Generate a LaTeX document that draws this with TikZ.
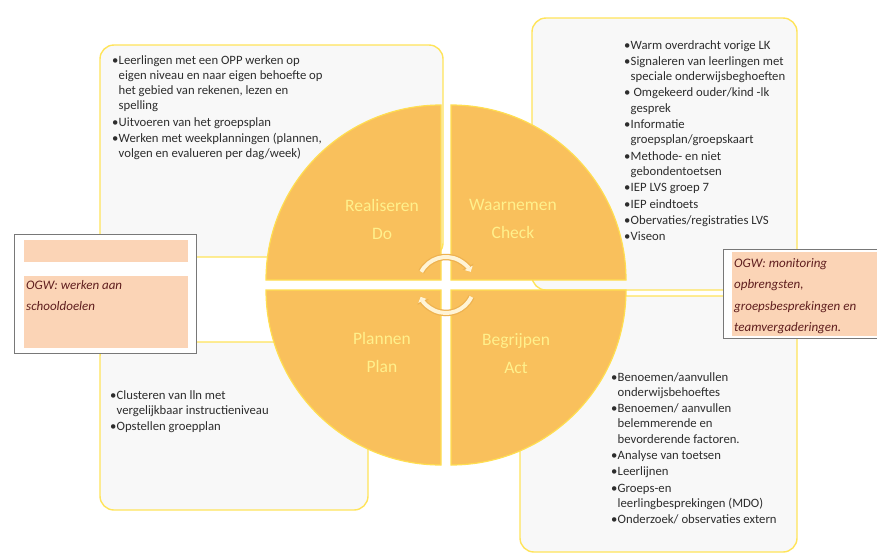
\documentclass[tikz,border=0pt]{standalone}
\usepackage{fontspec}
\setmainfont{Carlito}
\usetikzlibrary{arrows.meta}
\definecolor{panelfill}{RGB}{248,248,248}
\definecolor{panelline}{RGB}{255,228,90}
\definecolor{quadfill}{RGB}{249,192,92}
\definecolor{quadline}{RGB}{255,222,80}
\definecolor{phasetext}{RGB}{255,240,140}
\definecolor{peach}{RGB}{251,212,182}
\definecolor{ogwtext}{RGB}{95,30,30}
\definecolor{framegray}{RGB}{120,120,120}
\definecolor{bodytext}{RGB}{45,45,45}
\definecolor{cream}{RGB}{255,244,214}
\definecolor{arrowrim}{RGB}{238,178,80}

% bullet and hanging indent for the lists
\newcommand{\bl}{\makebox[6.5pt][l]{\textbullet}}
\newcommand{\ind}{\hspace*{6.5pt}}

\begin{document}
\begin{tikzpicture}[x=1pt,y=-1pt,
  panel/.style={fill=panelfill, draw=panelline, line width=1.4pt, rounded corners=14pt},
  quad/.style={fill=quadfill, draw=quadline, line width=1.2pt},
  phase/.style={text=phasetext, font=\fontsize{17.5}{28}\selectfont, align=center},
  list/.style={anchor=north west, align=left, inner sep=0pt, text=bodytext, font=\fontsize{12.7}{15.3}\selectfont},
  ogw/.style={anchor=north west, align=left, inner sep=0pt, text=ogwtext, font=\fontsize{13}{21.5}\selectfont\itshape}]

% Background
\useasboundingbox (0,0) rectangle (877,555);
\fill[white] (0,0) rectangle (877,555);

% Panels behind the circle
\draw[panel] (100,45) rectangle (443,257);
\draw[panel] (532,18) rectangle (797,290);
\draw[panel] (100,342) rectangle (368,510);
\draw[panel] (520,296) rectangle (797,552);

% OGW boxes
\draw[draw=framegray, fill=white, line width=0.8pt] (14,234) rectangle (196,353);
\fill[peach] (24,240) rectangle (188,262);
\fill[peach] (24,276) rectangle (188,348);
\node[ogw] (ogwleft) at (26,280) {OGW: werken aan\\schooldoelen};

\draw[draw=framegray, fill=white, line width=0.8pt] (723,249) rectangle (880,338);
\fill[peach] (732,252) rectangle (877,336);
\node[ogw] (ogwright) at (734,258) {OGW: monitoring\\opbrengsten,\\groepsbesprekingen en\\teamvergaderingen.};

% Circle in four quarters
\def\cx{446}
\def\cy{285}
\def\rr{175}
\def\gap{5}
\foreach \sx/\sy/\a in {-1/-1/180, 1/-1/270, 1/1/0, -1/1/90}
  \draw[quad] ({\cx+\sx*\gap},{\cy+\sy*\gap}) -- ++(\a:\rr) arc[start angle=\a, delta angle=90, radius=\rr] -- cycle;

% Phase labels
\node[phase] (do) at (382,219) {Realiseren\\Do};
\node[phase] (check) at (513,219) {Waarnemen\\Check};
\node[phase] (plan) at (382,352) {Plannen\\Plan};
\node[phase] (act) at (516,354) {Begrijpen\\Act};

% Turning arrows in the middle
\foreach \s/\e in {208/332, 25/155}{
  \draw[line width=6.5pt, arrowrim, -{Triangle[length=6pt,width=12pt]}] (\cx,\cy) ++(\s:28) arc[start angle=\s, end angle=\e, radius=28];
  \draw[line width=4pt, cream, -{Triangle[length=4.5pt,width=9pt]}] (\cx,\cy) ++(\s:28) arc[start angle=\s, end angle=\e, radius=28];
}

% Lists
\node[list] (dolist) at (112,55) {%
\bl Leerlingen met een OPP werken op\\
\ind eigen niveau en naar eigen behoefte op\\
\ind het gebied van rekenen, lezen en\\
\ind spelling\\[1pt]
\bl Uitvoeren van het groepsplan\\[1pt]
\bl Werken met weekplanningen (plannen,\\
\ind volgen en evalueren per dag/week)};

\node[list] (checklist) at (624,40) {%
\bl Warm overdracht vorige LK\\[1pt]
\bl Signaleren van leerlingen met\\
\ind speciale onderwijsbeghoeften\\[1pt]
\bl\ Omgekeerd ouder/kind -lk\\
\ind gesprek\\[1pt]
\bl Informatie\\
\ind groepsplan/groepskaart\\[1pt]
\bl Methode- en niet\\
\ind gebondentoetsen\\[1pt]
\bl IEP LVS groep 7\\[1pt]
\bl IEP eindtoets\\[1pt]
\bl Obervaties/registraties LVS\\[1pt]
\bl Viseon};

\node[list] (planlist) at (110,390) {%
\bl Clusteren van lln met\\
\ind vergelijkbaar instructieniveau\\[1pt]
\bl Opstellen groepplan};

\node[list] (actlist) at (611,372) {%
\bl Benoemen/aanvullen\\
\ind onderwijsbehoeftes\\[1pt]
\bl Benoemen/ aanvullen\\
\ind belemmerende en\\
\ind bevorderende factoren.\\[1pt]
\bl Analyse van toetsen\\[1pt]
\bl Leerlijnen\\[1pt]
\bl Groeps-en\\
\ind leerlingbesprekingen (MDO)\\[1pt]
\bl Onderzoek/ observaties extern};

\end{tikzpicture}
\end{document}
